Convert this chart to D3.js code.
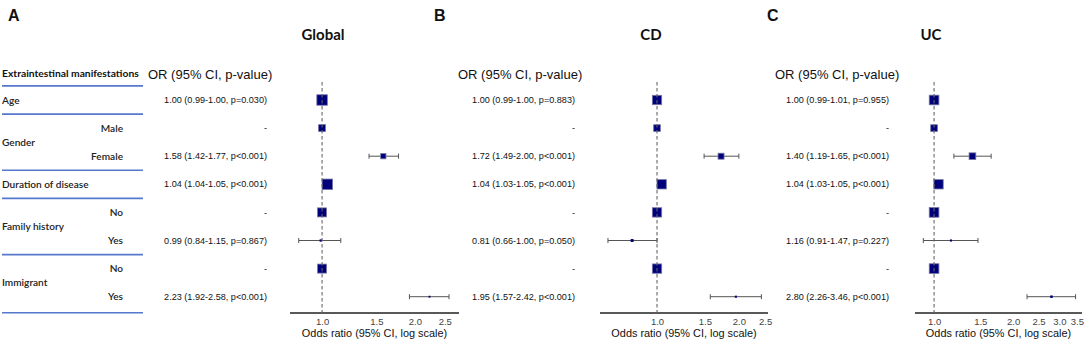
<!DOCTYPE html>
<html>
<head>
<meta charset="utf-8">
<script src="https://cdn.jsdelivr.net/npm/d3@7/dist/d3.min.js"></script>
<style>
  html, body { margin: 0; padding: 0; background: #fff; }
  svg { display: block; }
</style>
</head>
<body>
<svg id="chart" width="1084" height="345"></svg>
<script>
// ---------------- DATA ----------------
const rowLabels   = ["Age", "Male", "Female", "Duration of disease", "No", "Yes", "No", "Yes"];
const rowIsSub    = [false, true, true, false, true, true, true, true];
const groupLabels = ["Gender", "Family history", "Immigrant"];
const groupRows   = [[1, 2], [4, 5], [6, 7]];

const panelLetters = ["A", "B", "C"];
const panelTitles  = ["Global", "CD", "UC"];

const globalOR   = [1.00, 1.00, 1.58, 1.04, 1.00, 0.99, 1.00, 2.23];
const globalLo   = [0.99, null, 1.42, 1.04, null, 0.84, null, 1.92];
const globalHi   = [1.00, null, 1.77, 1.05, null, 1.15, null, 2.58];
const globalWt   = [100, 66, 50, 100, 86, 22, 86, 18];
const globalText = ["1.00 (0.99-1.00, p=0.030)", "-", "1.58 (1.42-1.77, p<0.001)", "1.04 (1.04-1.05, p<0.001)",
                    "-", "0.99 (0.84-1.15, p=0.867)", "-", "2.23 (1.92-2.58, p<0.001)"];

const cdOR   = [1.00, 1.00, 1.72, 1.04, 1.00, 0.81, 1.00, 1.95];
const cdLo   = [0.99, null, 1.49, 1.03, null, 0.66, null, 1.57];
const cdHi   = [1.00, null, 2.00, 1.05, null, 1.00, null, 2.42];
const cdWt   = [89, 64, 57, 89, 89, 28, 89, 20];
const cdText = ["1.00 (0.99-1.00, p=0.883)", "-", "1.72 (1.49-2.00, p<0.001)", "1.04 (1.03-1.05, p<0.001)",
                "-", "0.81 (0.66-1.00, p=0.050)", "-", "1.95 (1.57-2.42, p<0.001)"];

const ucOR   = [1.00, 1.00, 1.40, 1.04, 1.00, 1.16, 1.00, 2.80];
const ucLo   = [0.99, null, 1.19, 1.03, null, 0.91, null, 2.26];
const ucHi   = [1.01, null, 1.65, 1.05, null, 1.47, null, 3.46];
const ucWt   = [92, 64, 64, 89, 92, 20, 92, 24];
const ucText = ["1.00 (0.99-1.01, p=0.955)", "-", "1.40 (1.19-1.65, p<0.001)", "1.04 (1.03-1.05, p<0.001)",
                "-", "1.16 (0.91-1.47, p=0.227)", "-", "2.80 (2.26-3.46, p<0.001)"];

const ticksAB = [1.0, 1.5, 2.0, 2.5];
const ticksC  = [1.0, 1.5, 2.0, 2.5, 3.0, 3.5];

// ---------------- LAYOUT ----------------
const svg = d3.select("#chart");
const idx = d3.range(rowLabels.length);
const y = d3.scaleLinear().domain([0, 7]).range([100, 296.7]);
const rowH = y(1) - y(0);
const sizeScale = d3.scaleLinear().domain([0, 100]).range([0, 10.5]);

const FONT_LBL = "Lato, 'Open Sans', sans-serif";
const FONT_AR  = "'Liberation Sans', Arial, sans-serif";
const NAVY = "#00007a";
const SEP = "#5577cc";

// left label column
const left = svg.append("g");
left.append("text").attr("x", 2).attr("y", 77)
  .attr("font-family", FONT_LBL).attr("font-weight", 700).attr("font-size", 10.3)
  .attr("fill", "#111").text("Extraintestinal manifestations");

left.selectAll("text.row").data(idx).join("text")
  .attr("class", "row")
  .attr("x", i => rowIsSub[i] ? 123 : 2)
  .attr("y", i => y(i))
  .attr("dy", "0.35em")
  .attr("text-anchor", i => rowIsSub[i] ? "end" : "start")
  .attr("font-family", FONT_LBL).attr("font-size", 10.1).attr("font-weight", 600)
  .attr("fill", "#222")
  .text(i => rowLabels[i]);

left.selectAll("text.grp").data(groupLabels).join("text")
  .attr("class", "grp")
  .attr("x", 2)
  .attr("y", (d, k) => (y(groupRows[k][0]) + y(groupRows[k][1])) / 2)
  .attr("dy", "0.35em")
  .attr("font-family", FONT_LBL).attr("font-size", 10.1).attr("font-weight", 600)
  .attr("fill", "#222")
  .text(d => d);

// separators: before Age, Male, Duration, FH-No, Imm-No, after last
const sepBefore = [0, 1, 3, 4, 6, 8];
left.selectAll("line.sep").data(sepBefore).join("line")
  .attr("x1", 2).attr("x2", 143)
  .attr("y1", d => y(d) - rowH / 2 + (d === 8 ? 2 : 0))
  .attr("y2", d => y(d) - rowH / 2 + (d === 8 ? 2 : 0))
  .attr("stroke", SEP).attr("stroke-width", 1.7);

// ---------------- PANELS ----------------
const panels = [
  { or: globalOR, lo: globalLo, hi: globalHi, wt: globalWt, txt: globalText, ticks: ticksAB,
    letterX: 8, titleX: 323, headX: 148, textRight: 267,
    domain: [0.787, 2.78], range: [290, 459] },
  { or: cdOR, lo: cdLo, hi: cdHi, wt: cdWt, txt: cdText, ticks: ticksAB,
    letterX: 434, titleX: 651, headX: 458, textRight: 575,
    domain: [0.617, 2.56], range: [600, 768] },
  { or: ucOR, lo: ucLo, hi: ucHi, wt: ucWt, txt: ucText, ticks: ticksC,
    letterX: 767, titleX: 931, headX: 775, textRight: 889,
    domain: [0.846, 3.66], range: [915, 1082] }
];

const axisY = 313;

panels.forEach((p, k) => {
  const g = svg.append("g");
  const x = d3.scaleLog().domain(p.domain).range(p.range);

  g.append("text").attr("x", p.letterX).attr("y", 21)
    .attr("font-family", FONT_AR).attr("font-weight", 700).attr("font-size", 16)
    .attr("fill", "#111").text(panelLetters[k]);

  g.append("text").attr("x", p.titleX).attr("y", 40)
    .attr("text-anchor", "middle")
    .attr("font-family", FONT_LBL).attr("font-weight", 700).attr("font-size", 15)
    .attr("fill", "#111").text(panelTitles[k]);

  g.append("text").attr("x", p.headX).attr("y", 79)
    .attr("font-family", FONT_AR).attr("font-size", 13)
    .attr("fill", "#111").text("OR (95% CI, p-value)");

  g.selectAll("text.or").data(idx).join("text")
    .attr("class", "or")
    .attr("x", p.textRight).attr("y", i => y(i)).attr("dy", "0.35em")
    .attr("text-anchor", "end")
    .attr("font-family", FONT_AR).attr("font-size", 9.1)
    .attr("fill", "#111")
    .text(i => p.txt[i]);

  // axis
  const axis = d3.axisBottom(x).tickValues(p.ticks).tickFormat(d3.format(".1f")).tickSize(0).tickPadding(5);
  const ag = g.append("g").attr("transform", `translate(0,${axisY})`).call(axis);
  ag.select(".domain").attr("stroke", "#222").attr("stroke-width", 1.3).attr("d", `M${p.range[0]},0H${p.range[1]}`);
  ag.selectAll(".tick text").attr("font-family", FONT_AR).attr("font-size", 9.5).attr("fill", "#444");

  g.append("text").attr("x", (p.range[0] + p.range[1]) / 2).attr("y", 337)
    .attr("text-anchor", "middle")
    .attr("font-family", FONT_AR).attr("font-size", 10.9)
    .attr("fill", "#111").text("Odds ratio (95% CI, log scale)");

  // CI lines
  const ci = idx.filter(i => p.lo[i] !== null && p.hi[i] !== null && x(p.hi[i]) - x(p.lo[i]) > 4);
  g.selectAll("line.ci").data(ci).join("line")
    .attr("x1", i => x(p.lo[i])).attr("x2", i => x(p.hi[i]))
    .attr("y1", i => y(i)).attr("y2", i => y(i))
    .attr("stroke", "#555").attr("stroke-width", 1);
  ["lo", "hi"].forEach(side => {
    g.selectAll("line.cap" + side).data(ci).join("line")
      .attr("x1", i => x(p[side][i])).attr("x2", i => x(p[side][i]))
      .attr("y1", i => y(i) - 2.5).attr("y2", i => y(i) + 2.5)
      .attr("stroke", "#555").attr("stroke-width", 1);
  });

  // squares
  g.selectAll("rect.pt").data(idx).join("rect")
    .attr("x", i => x(p.or[i]) - sizeScale(p.wt[i]) / 2)
    .attr("y", i => y(i) - sizeScale(p.wt[i]) / 2)
    .attr("width", i => sizeScale(p.wt[i]))
    .attr("height", i => sizeScale(p.wt[i]))
    .attr("fill", NAVY)
    .attr("stroke", i => sizeScale(p.wt[i]) > 4 ? "#7777a8" : "none")
    .attr("stroke-width", 0.8);

  // reference dashed line
  g.append("line")
    .attr("x1", x(1)).attr("x2", x(1))
    .attr("y1", 82).attr("y2", axisY)
    .attr("stroke", "#666").attr("stroke-width", 1.2)
    .attr("stroke-dasharray", "3.5,2.5")
    .attr("opacity", 0.9);
});
</script>
</body>
</html>
